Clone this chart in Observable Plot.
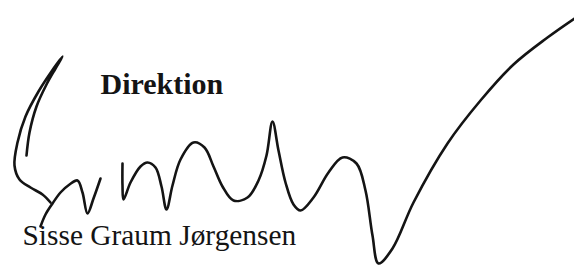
<!DOCTYPE html>
<html>
<head>
<meta charset="utf-8">
<script src="https://cdn.jsdelivr.net/npm/d3@7"></script>
<script src="https://cdn.jsdelivr.net/npm/@observablehq/plot@0.6"></script>
<style>
  html, body { margin: 0; padding: 0; background: #fff; }
  #chart svg { display: block; }
</style>
</head>
<body>
<div id="chart"></div>
<script>
// Signature strokes, as [x, y] points in the picture's own coordinate frame
const loopStroke = [
  [26,155],[29,132],[36,106],[46,84],[55,68],[62,56],
  [51,71],[38,91],[25,116],[17,142],[14,165],[19,179],[30,187],[42,194],[50,202]
];
const hookStroke = [
  [40,226],[45,214],[52,203],[60,192],[69,184],[77,180],[82,192],[87,213],[93,198],[100,178]
];
const waveStroke = [
  [122,163],[122,185],[123,199],[130,182],[140,166],[147,162],[155,167],[161,186],[166,209],
  [172,185],[180,159],[193,142],[204,147],[213,166],[222,186],[233,200],[247,197],[258,180],
  [266,155],[272,121],[278,150],[285,182],[293,204],[300,210],[313,197],[328,172],[342,157],
  [356,163],[365,190],[372,235],[378,263],[392,248],[413,202],[447,143],[480,100],[513,64],
  [547,37],[574,18]
];
const strokes = [loopStroke, hookStroke, waveStroke];

// Texts
const labels = ["Direktion", "Sisse Graum Jørgensen"];
const labelX = [100, 22];
const labelY = [93, 244];

const lines = strokes.flatMap((s, i) => s.map(([x, y]) => ({x, y, stroke: i})));
const texts = labels.map((t, i) => ({text: t, x: labelX[i], y: labelY[i], bold: i === 0}));

const chart = Plot.plot({
  width: 574,
  height: 268,
  margin: 0,
  style: {background: "#fff"},
  x: {domain: [0, 574], axis: null},
  y: {domain: [268, 0], axis: null},
  marks: [
    Plot.line(lines, {x: "x", y: "y", z: "stroke", curve: "catmull-rom",
      stroke: "#141414", strokeWidth: 2.6, strokeLinecap: "round", strokeLinejoin: "round"}),
    Plot.text(texts.filter(d => d.bold), {x: "x", y: "y", text: "text", textAnchor: "start",
      lineAnchor: "bottom", fontFamily: "Liberation Serif", fontWeight: "bold", fontSize: 30, fill: "#141414"}),
    Plot.text(texts.filter(d => !d.bold), {x: "x", y: "y", text: "text", textAnchor: "start",
      lineAnchor: "bottom", fontFamily: "Liberation Serif", fontSize: 29.4, fill: "#141414"})
  ]
});
document.getElementById("chart").appendChild(chart);
</script>
</body>
</html>
